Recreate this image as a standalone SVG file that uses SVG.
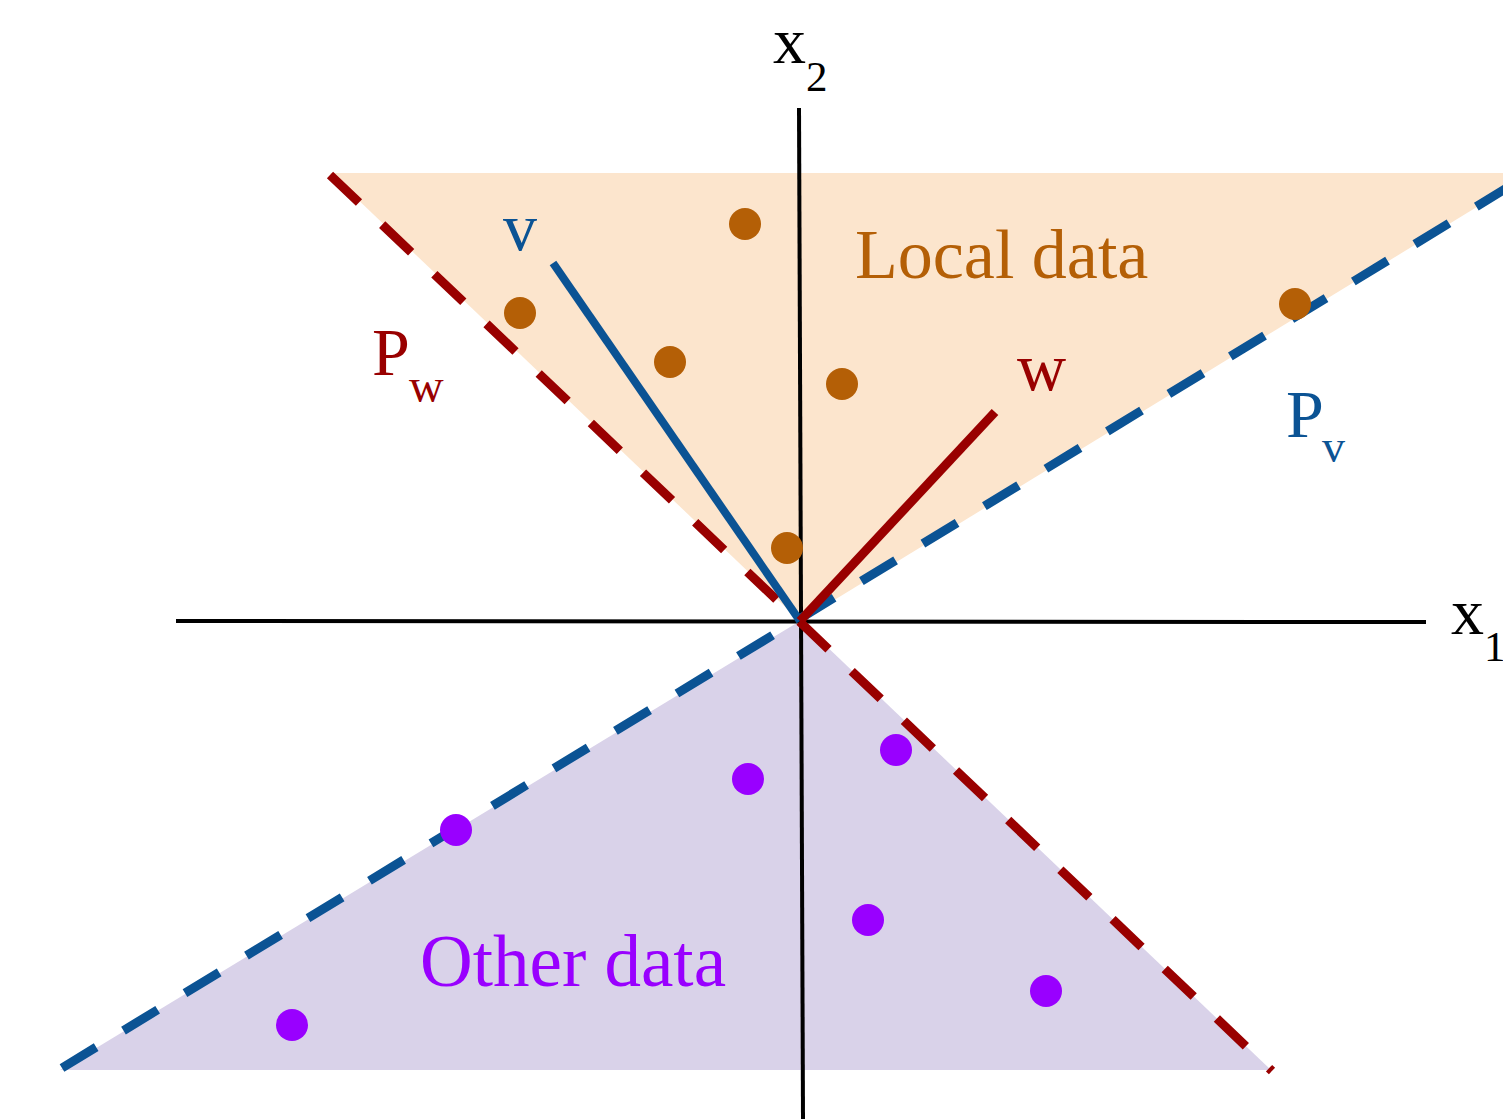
<svg xmlns="http://www.w3.org/2000/svg" width="1503" height="1119" viewBox="0 0 1503 1119">
<style>
.t{font-family:"Liberation Serif","DejaVu Serif",serif}
.axis{stroke:#000;stroke-width:4;fill:none}
.dash{stroke-width:9;fill:none;stroke-dasharray:40 32}
.loc{fill:#b45f06}
.oth{fill:#9900ff}
.red{fill:#990000}
.blue{fill:#0b5394}
</style>
<rect width="1503" height="1119" fill="#fff"/>
<g id="regions">
<polygon id="local-region" points="330,173 1503,173 1503,191 800,621" fill="#fce5cd"/>
<polygon id="other-region" points="800,621 1271,1070 60,1070" fill="#d9d2e9"/>
</g>
<g id="axes">
<line class="axis" x1="176" y1="621" x2="1426" y2="622"/>
<line class="axis" x1="799" y1="108" x2="803" y2="1119"/>
<text class="t" x="773" y="63" font-size="66">x</text>
<text class="t" x="806" y="91" font-size="43">2</text>
<text class="t" x="1451" y="634" font-size="66">x</text>
<text class="t" x="1484" y="661" font-size="43">1</text>
</g>
<g id="connectors">
<line id="Pw-line" class="dash" stroke="#990000" x1="330" y1="175" x2="1272" y2="1071"/>
<line id="Pv-line" class="dash" stroke="#0b5394" x1="62" y1="1068" x2="1520" y2="180"/>
<line id="v-vec" stroke="#0b5394" stroke-width="8" x1="800" y1="621" x2="553" y2="263"/>
<line id="w-vec" stroke="#990000" stroke-width="9" x1="800" y1="621" x2="995" y2="412"/>
</g>
<g id="local-points" class="loc">
<circle cx="745" cy="224" r="16"/>
<circle cx="520" cy="313" r="16"/>
<circle cx="670" cy="362" r="16"/>
<circle cx="842" cy="384" r="16"/>
<circle cx="1295" cy="304" r="16"/>
<circle cx="787" cy="548" r="16"/>
</g>
<g id="other-points" class="oth">
<circle cx="896" cy="750" r="16"/>
<circle cx="748" cy="779" r="16"/>
<circle cx="456" cy="830" r="16"/>
<circle cx="868" cy="920" r="16"/>
<circle cx="1046" cy="991" r="16"/>
<circle cx="292" cy="1025" r="16"/>
</g>
<g id="labels">
<text id="local-label" class="t loc" x="855" y="278" font-size="70">Local data</text>
<text id="other-label" class="t oth" x="420" y="986" font-size="73">Other data</text>
<text id="v-label" class="t blue" x="503" y="250" font-size="68">v</text>
<text id="w-label" class="t red" x="1017" y="390" font-size="68">w</text>
<g id="Pw-label" class="red"><text class="t" x="372" y="375" font-size="68">P</text><text class="t" x="409" y="402" font-size="48">w</text></g>
<g id="Pv-label" class="blue"><text class="t" x="1286" y="437" font-size="68">P</text><text class="t" x="1322" y="462" font-size="46">v</text></g>
</g>
</svg>
